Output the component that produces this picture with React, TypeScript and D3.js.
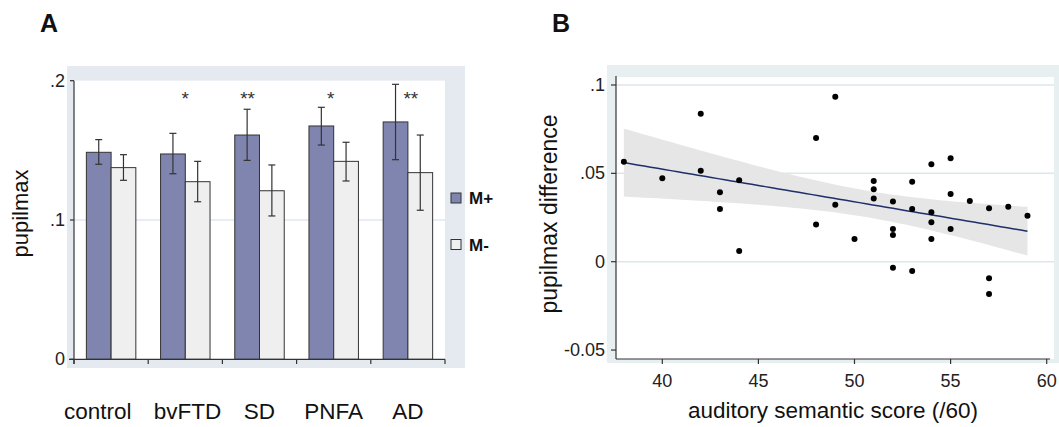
import React from 'react';
import * as d3 from 'd3';

// ---------- Panel A data ----------
const categories = ['control', 'bvFTD', 'SD', 'PNFA', 'AD'];
const seriesNames = ['M+', 'M-'];
const mPlus = [0.1486, 0.1474, 0.161, 0.1675, 0.1704];
const mPlusLo = [0.14, 0.1332, 0.1428, 0.1538, 0.1433];
const mPlusHi = [0.1577, 0.1622, 0.1795, 0.1809, 0.1974];
const mMinus = [0.1376, 0.1275, 0.121, 0.1421, 0.134];
const mMinusLo = [0.1285, 0.1131, 0.1029, 0.128, 0.107];
const mMinusHi = [0.1469, 0.1421, 0.1395, 0.1558, 0.161];
const stars = ['', '*', '**', '*', '**'];
const starPos = [0.5, 0.5, 0.34, 0.46, 0.54];
const labelPos = [0.32, 0.53, 0.5, 0.5, 0.5];
const aTicks = [0, 0.1, 0.2];
const aTickLabels = ['0', '.1', '.2'];

// ---------- Panel B data ----------
const scoreX = [38, 40, 42, 42, 43, 43, 44, 44, 48, 48, 49, 49, 50, 51, 51, 51, 52, 52, 52, 52,
  53, 53, 53, 54, 54, 54, 54, 55, 55, 55, 56, 57, 57, 57, 58, 59];
const pupilDiff = [0.0566, 0.0472, 0.0838, 0.0515, 0.0393, 0.0298, 0.0461, 0.0061, 0.07, 0.021,
  0.0934, 0.0323, 0.0128, 0.0457, 0.041, 0.0357, 0.034, 0.0185, 0.0151, -0.0034,
  0.0453, 0.0298, -0.0053, 0.0551, 0.028, 0.0223, 0.0128, 0.0585, 0.0383, 0.0185,
  0.0344, 0.0302, -0.0094, -0.0183, 0.0311, 0.026];
const bYTicks = [-0.05, 0, 0.05, 0.1];
const bYTickLabels = ['-0.05', '0', '.05', '.1'];
const bGrid = [0, 0.05, 0.1];
const bXTicks = [40, 45, 50, 55, 60];

const FONT = "'Liberation Sans', Arial, sans-serif";
const BAR_PLUS = '#7f85ae';
const BAR_MINUS = '#efefef';
const EDGE = '#333';

export default function App() {
  // ---- Panel A scales ----
  const ax = d3.scaleBand<string>().domain(categories).range([74, 445]).padding(0);
  const aInner = d3.scaleBand<string>().domain(seriesNames).range([0, ax.bandwidth()]).paddingInner(0).paddingOuter(0.5);
  const ay = d3.scaleLinear().domain([0, 0.2]).range([359.3, 80.7]);

  const seriesVals = [mPlus, mMinus];
  const seriesLo = [mPlusLo, mMinusLo];
  const seriesHi = [mPlusHi, mMinusHi];
  const seriesFill = [BAR_PLUS, BAR_MINUS];

  // ---- Panel B scales ----
  const bx = d3.scaleLinear().domain([40, 60]).range([662.3, 1046.7]);
  const by = d3.scaleLinear().domain([0, 0.1]).range([261.7, 85]);
  const bLeft = 616;
  const bBottom = 359;

  // regression with 95% CI of the fitted mean
  const n = scoreX.length;
  const mx = d3.mean(scoreX) as number;
  const my = d3.mean(pupilDiff) as number;
  let sxx = 0, sxy = 0;
  for (let i = 0; i < n; i++) {
    sxx += (scoreX[i] - mx) ** 2;
    sxy += (scoreX[i] - mx) * (pupilDiff[i] - my);
  }
  const slope = sxy / sxx;
  const icpt = my - slope * mx;
  let sse = 0;
  for (let i = 0; i < n; i++) sse += (pupilDiff[i] - (icpt + slope * scoreX[i])) ** 2;
  const s = Math.sqrt(sse / (n - 2));
  const tval = 2.032;
  const xmin = d3.min(scoreX) as number;
  const xmax = d3.max(scoreX) as number;
  const grid = d3.range(0, 61).map((k) => xmin + ((xmax - xmin) * k) / 60);
  const band = grid.map((x) => {
    const f = icpt + slope * x;
    const h = tval * s * Math.sqrt(1 / n + (x - mx) ** 2 / sxx);
    return { x, lo: f - h, hi: f + h, f };
  });
  const areaGen = d3.area<any>().x((d) => bx(d.x)).y0((d) => by(d.lo)).y1((d) => by(d.hi));
  const lineGen = d3.line<any>().x((d) => bx(d.x)).y((d) => by(d.f));

  return (
    <svg width={1059} height={427} style={{ position: 'absolute', left: 0, top: 0, background: '#fff' }} fontFamily={FONT}>
      {/* ================= Panel A ================= */}
      <text x={40} y={32} fontSize={25} fontWeight="bold" fill="#111">A</text>
      <rect x={67} y={66} width={398} height={302} fill="#e5eaf0" />
      <rect x={74} y={ay(0.2)} width={445 - 74} height={ay(0) - ay(0.2)} fill="#fff" />
      <line x1={74} x2={445} y1={ay(0.1)} y2={ay(0.1)} stroke="#cfdcef" strokeWidth={1} />

      {categories.map((c, ci) => (
        <g key={c}>
          {seriesNames.map((sName, si) => {
            const x0 = (ax(c) as number) + (aInner(sName) as number);
            const w = aInner.bandwidth();
            const v = seriesVals[si][ci];
            const cx = x0 + w / 2;
            return (
              <g key={sName}>
                <rect x={x0} y={ay(v)} width={w} height={ay(0) - ay(v)} fill={seriesFill[si]} stroke={EDGE} strokeWidth={1} />
                <line x1={cx} x2={cx} y1={ay(seriesLo[si][ci])} y2={ay(seriesHi[si][ci])} stroke="#333" strokeWidth={1.2} />
                <line x1={cx - 3.5} x2={cx + 3.5} y1={ay(seriesLo[si][ci])} y2={ay(seriesLo[si][ci])} stroke="#333" strokeWidth={1.2} />
                <line x1={cx - 3.5} x2={cx + 3.5} y1={ay(seriesHi[si][ci])} y2={ay(seriesHi[si][ci])} stroke="#333" strokeWidth={1.2} />
              </g>
            );
          })}
          {stars[ci] && (
            <text x={(ax(c) as number) + ax.bandwidth() * starPos[ci]} y={105} fontSize={19} textAnchor="middle" fill="#333">{stars[ci]}</text>
          )}
          <text x={(ax(c) as number) + ax.bandwidth() * labelPos[ci]} y={418.5} fontSize={22.5} textAnchor="middle" fill="#111">{c}</text>
        </g>
      ))}

      {/* axes A */}
      <line x1={74} x2={74} y1={ay(0.2)} y2={364} stroke="#333" strokeWidth={1.2} />
      <line x1={69} x2={445} y1={ay(0)} y2={ay(0)} stroke="#333" strokeWidth={1.2} />
      {aTicks.map((t, i) => (
        <g key={t}>
          <line x1={70} x2={74} y1={ay(t)} y2={ay(t)} stroke="#333" strokeWidth={1.2} />
          <text x={65} y={ay(t) + 6} fontSize={18} textAnchor="end" fill="#222">{aTickLabels[i]}</text>
        </g>
      ))}
      {d3.range(categories.length + 1).map((k) => {
        const x = 74 + ax.step() * k;
        return <line key={k} x1={x} x2={x} y1={ay(0)} y2={364} stroke="#333" strokeWidth={1.2} />;
      })}
      <text transform={`translate(28,${213.5}) rotate(-90)`} fontSize={22} textAnchor="middle" fill="#111">pupilmax</text>

      {/* legend A */}
      {seriesNames.map((sName, si) => (
        <g key={sName}>
          <rect x={451} y={193 + si * 46.5} width={10} height={10} fill={seriesFill[si]} stroke={EDGE} strokeWidth={1} />
          <text x={469} y={203.5 + si * 47.5} fontSize={17} fontWeight="bold" fill="#111">{sName}</text>
        </g>
      ))}

      {/* ================= Panel B ================= */}
      <text x={552} y={32} fontSize={25} fontWeight="bold" fill="#111">B</text>
      <rect x={607} y={65} width={452} height={298} fill="#e8eff1" />
      <rect x={bLeft} y={77} width={1054 - bLeft} height={bBottom - 77} fill="#fff" />
      {bGrid.map((g) => (
        <line key={g} x1={bLeft} x2={1054} y1={by(g)} y2={by(g)} stroke="#dde7eb" strokeWidth={1.5} />
      ))}
      <path d={areaGen(band) as string} fill="#e6e6e6" />
      <path d={lineGen(band) as string} fill="none" stroke="#1f2f6b" strokeWidth={1.5} />
      {scoreX.map((x, i) => (
        <circle key={i} cx={bx(x)} cy={by(pupilDiff[i])} r={3} fill="#000" />
      ))}

      {/* axes B */}
      <line x1={bLeft} x2={bLeft} y1={76} y2={bBottom} stroke="#333" strokeWidth={1.2} />
      <line x1={bLeft} x2={1050} y1={bBottom} y2={bBottom} stroke="#333" strokeWidth={1.2} />
      {bYTicks.map((t, i) => (
        <g key={t}>
          <line x1={611} x2={bLeft} y1={by(t)} y2={by(t)} stroke="#333" strokeWidth={1.2} />
          <text x={605} y={by(t) + 6} fontSize={18} textAnchor="end" fill="#222">{bYTickLabels[i]}</text>
        </g>
      ))}
      {bXTicks.map((t) => (
        <g key={t}>
          <line x1={bx(t)} x2={bx(t)} y1={bBottom} y2={bBottom + 5} stroke="#333" strokeWidth={1.2} />
          <text x={bx(t)} y={387} fontSize={18} textAnchor="middle" fill="#222">{t}</text>
        </g>
      ))}
      <text x={833} y={418} fontSize={22.5} textAnchor="middle" fill="#111">auditory semantic score (/60)</text>
      <text transform={`translate(557,${214}) rotate(-90)`} fontSize={23} textAnchor="middle" fill="#111">pupilmax difference</text>
    </svg>
  );
}
